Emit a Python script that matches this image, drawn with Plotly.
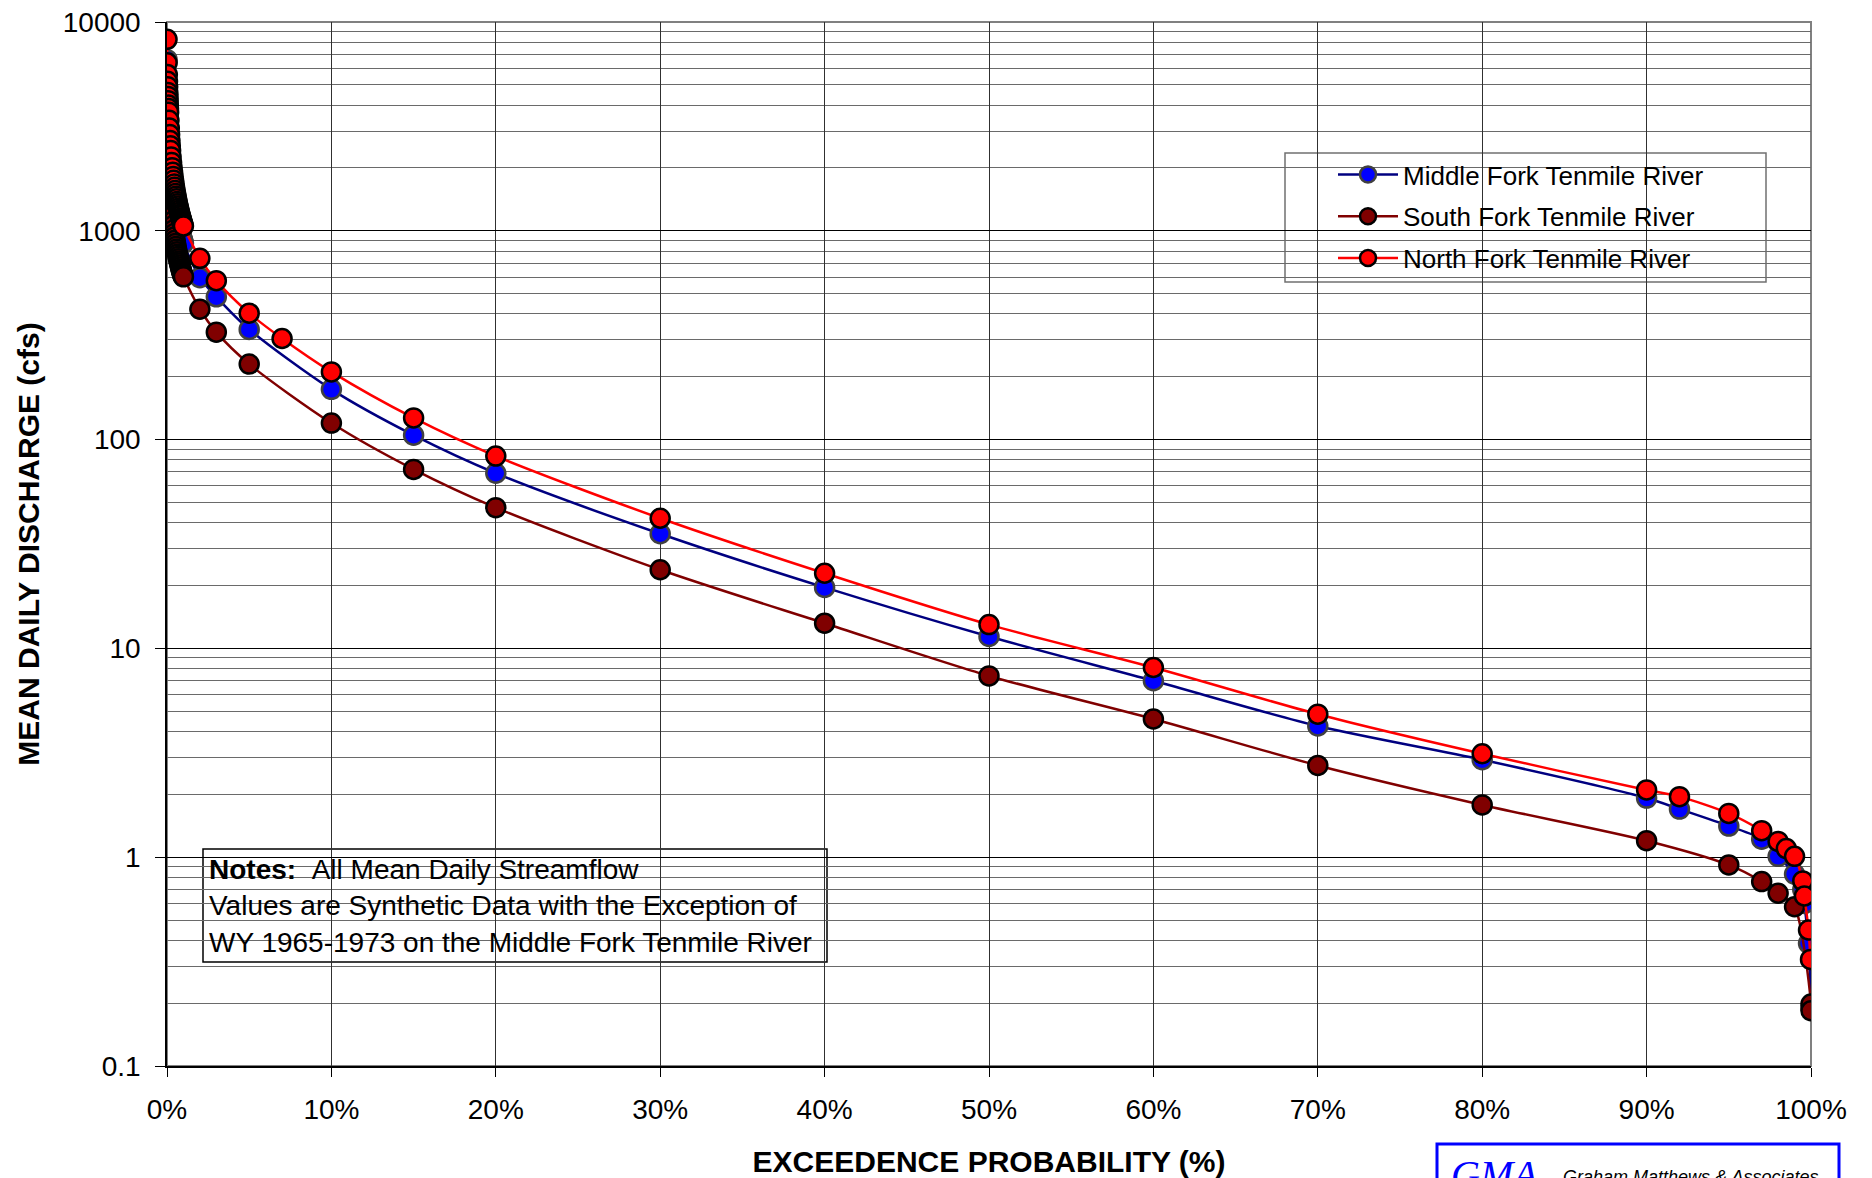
import plotly.graph_objects as go

# ---------------- data ----------------
DENSE_X = [0.003, 0.01, 0.02, 0.03, 0.04, 0.05, 0.06, 0.07, 0.08, 0.09, 0.10, 0.12, 0.14, 0.16, 0.18,
           0.20, 0.22, 0.25, 0.28, 0.31, 0.34, 0.37, 0.40, 0.43, 0.46, 0.49, 0.52, 0.55, 0.58, 0.61,
           0.64, 0.67, 0.70, 0.73, 0.76, 0.79, 0.82, 0.85, 0.88, 0.91, 0.94, 0.97]

MIDDLE_X = DENSE_X + [1, 2, 3, 5, 10, 15, 20, 30, 40, 50, 60, 70, 80, 90, 92, 95, 97, 98, 99, 99.5, 99.6,
                      99.85, 100]
MIDDLE_Y = [6600, 5100, 4500, 4200, 3950, 3750, 3600, 3450, 3300, 3180, 3070, 2810, 2580, 2400, 2250,
            2120, 2010, 1875, 1760, 1665, 1585, 1510, 1450, 1390, 1340, 1295, 1255, 1215, 1180, 1150,
            1120, 1090, 1065, 1040, 1018, 996, 976, 957, 939, 921, 905, 888,
            871, 596, 483, 337, 174, 105, 69, 35.4, 19.6, 11.4, 7.0, 4.25, 2.93, 1.92, 1.70, 1.41, 1.22,
            1.01, 0.83, 0.70, 0.60, 0.387, 0.19]

SOUTH_X = DENSE_X + [1, 2, 3, 5, 10, 15, 20, 30, 40, 50, 60, 70, 80, 90, 95, 97, 98, 99, 100, 100]
SOUTH_Y = [5000, 3900, 3400, 3100, 2900, 2750, 2600, 2480, 2370, 2270, 2180, 1990, 1830, 1700, 1590,
           1500, 1420, 1320, 1240, 1170, 1110, 1060, 1010, 970, 935, 900, 870, 842, 817, 794,
           773, 753, 734, 717, 701, 685, 671, 657, 644, 632, 620, 610,
           602, 421, 327, 230, 120, 72, 47.2, 23.8, 13.2, 7.38, 4.59, 2.75, 1.78, 1.2, 0.918, 0.764,
           0.672, 0.579, 0.198, 0.184]

NORTH_X = DENSE_X + [1, 2, 3, 5, 7, 10, 15, 20, 30, 40, 50, 60, 70, 80, 90, 92, 95, 97, 98, 98.5, 99,
                     99.5, 99.6, 99.85, 99.97]
NORTH_Y = [8260, 6380, 5600, 5200, 4900, 4600, 4400, 4200, 4000, 3850, 3700, 3383, 3108, 2889, 2707,
           2554, 2424, 2259, 2123, 2007, 1908, 1821, 1745, 1677, 1616, 1560, 1510, 1465, 1422, 1383,
           1347, 1314, 1283, 1253, 1226, 1200, 1176, 1153, 1131, 1110, 1090, 1072,
           1054, 738, 577, 403, 305, 211, 127, 83.4, 42, 22.9, 13, 8.1, 4.84, 3.13, 2.1, 1.95, 1.62, 1.34,
           1.19, 1.10, 1.01, 0.77, 0.652, 0.448, 0.324]

SERIES_NAMES = ["Middle Fork Tenmile River", "South Fork Tenmile River", "North Fork Tenmile River"]

X_TICKS = [0, 10, 20, 30, 40, 50, 60, 70, 80, 90, 100]
X_TICK_TEXT = ["0%", "10%", "20%", "30%", "40%", "50%", "60%", "70%", "80%", "90%", "100%"]
Y_TICKS = [0.1, 1, 10, 100, 1000, 10000]
Y_TICK_TEXT = ["0.1", "1", "10", "100", "1000", "10000"]

X_TITLE = "EXCEEDENCE PROBABILITY (%)"
Y_TITLE = "MEAN DAILY DISCHARGE (cfs)"
NOTES = ["<b>Notes:</b>&nbsp;&nbsp;All Mean Daily Streamflow",
         "Values are Synthetic Data with the Exception of",
         "WY 1965-1973 on the Middle Fork Tenmile River"]

# ---------------- figure ----------------
W, H = 1872, 1178
OFF = 8                      # default page (body) margin of the html page
PL, PT, PR, PB = 167, 22, 1811, 1066   # wanted plot area on the page
ML, MT = PL - OFF, PT - OFF
PW, PH = PR - PL, PB - PT
MR, MB = W - ML - PW, H - MT - PH

def px(x):
    return (x - PL) / PW

def py(y):
    return (PB - y) / PH

FONT = "Liberation Sans, Arial, sans-serif"

fig = go.Figure()

styles = [
    dict(line="#000080", fill="#0000FF", edge="#404040"),
    dict(line="#800000", fill="#800000", edge="#000000"),
    dict(line="#FF0000", fill="#FF0000", edge="#000000"),
]
for i, (xs, ys) in enumerate([(MIDDLE_X, MIDDLE_Y), (SOUTH_X, SOUTH_Y), (NORTH_X, NORTH_Y)]):
    s = styles[i]
    fig.add_trace(go.Scatter(
        x=xs, y=ys, mode="lines+markers", name=SERIES_NAMES[i],
        legendgroup=f"g{i}",
        line=dict(color=s["line"], width=2.5, shape="spline", smoothing=0.8),
        marker=dict(size=19, color=s["fill"], line=dict(color=s["edge"], width=2.5)),
    ))

minor_vals = [k * 10 ** e for e in range(-1, 4) for k in range(2, 10)]

fig.update_layout(
    width=W, height=H,
    margin=dict(l=ML, r=MR, t=MT, b=MB, autoexpand=False),
    paper_bgcolor="white", plot_bgcolor="white",
    font=dict(family=FONT, color="black", size=28),
    showlegend=True,
    legend=dict(
        x=px(1333), y=py(151), xanchor="left", yanchor="top",
        bgcolor="rgba(0,0,0,0)", borderwidth=0,
        font=dict(family=FONT, size=26, color="black"),
        tracegroupgap=5, itemwidth=60,
    ),
    xaxis=dict(
        range=[0, 100], tickvals=X_TICKS, ticktext=X_TICK_TEXT, automargin=False,
        showgrid=True, gridcolor="#303030", gridwidth=1,
        showline=True, linecolor="#000000", linewidth=1.5,
        ticks="outside", ticklen=9, tickcolor="black", tickwidth=1,
        tickfont=dict(family=FONT, size=28, color="black"), ticklabelstandoff=9,
        ticklabeloverflow="allow",
        zeroline=False, layer="below traces",
        title=dict(text=f"<b>{X_TITLE}</b>", font=dict(family=FONT, size=30, color="black"), standoff=27),
    ),
    yaxis=dict(
        type="log", range=[-1, 4], tickvals=Y_TICKS, ticktext=Y_TICK_TEXT, automargin=False,
        showgrid=True, gridcolor="#000000", gridwidth=1,
        minor=dict(tickvals=minor_vals, showgrid=True, gridcolor="#6a6a6a", gridwidth=1, ticks=""),
        showline=True, linecolor="#000000", linewidth=1.5,
        ticks="outside", ticklen=10, tickcolor="black", tickwidth=1,
        tickfont=dict(family=FONT, size=28, color="black"), ticklabelstandoff=9,
        ticklabeloverflow="allow",
        zeroline=False, layer="below traces",
        title=dict(text=f"<b>{Y_TITLE}</b>", font=dict(family=FONT, size=30, color="black"), standoff=14),
    ),
)

shapes = []
# plot frame (gray top/right)
shapes.append(dict(type="rect", xref="paper", yref="paper", x0=0, x1=1, y0=0, y1=1,
                   line=dict(color="#808080", width=2), layer="between"))
# legend box
shapes.append(dict(type="rect", xref="paper", yref="paper", x0=px(1285), x1=px(1766), y0=py(282), y1=py(153),
                   line=dict(color="#707070", width=1.5), fillcolor="white", layer="between"))
# notes box
shapes.append(dict(type="rect", xref="paper", yref="paper", x0=px(203), x1=px(827), y0=py(962), y1=py(849),
                   line=dict(color="black", width=1.5), fillcolor="white", layer="between"))
# logo box (cut off at bottom)
shapes.append(dict(type="rect", xref="paper", yref="paper", x0=px(1437), x1=px(1839), y0=py(1220), y1=py(1144),
                   line=dict(color="#0000FF", width=3), fillcolor="white", layer="above"))
fig.update_layout(shapes=shapes)

annos = [dict(text="<br>".join(NOTES), xref="paper", yref="paper", x=px(207), y=py(905.5),
              xanchor="left", yanchor="middle", showarrow=False, align="left",
              font=dict(family=FONT, size=28, color="black"))]
annos.append(dict(text="<i>GMA</i>", xref="paper", yref="paper", x=px(1449), y=py(1150), xanchor="left",
                  yanchor="top", showarrow=False,
                  font=dict(family="Liberation Serif, serif", size=40, color="#0000FF")))
annos.append(dict(text="<i>Graham Matthews &amp; Associates</i>", xref="paper", yref="paper", x=px(1561), y=py(1165),
                  xanchor="left", yanchor="top", showarrow=False,
                  font=dict(family=FONT, size=18, color="black")))
fig.update_layout(annotations=annos)

fig.write_html("out.html")
